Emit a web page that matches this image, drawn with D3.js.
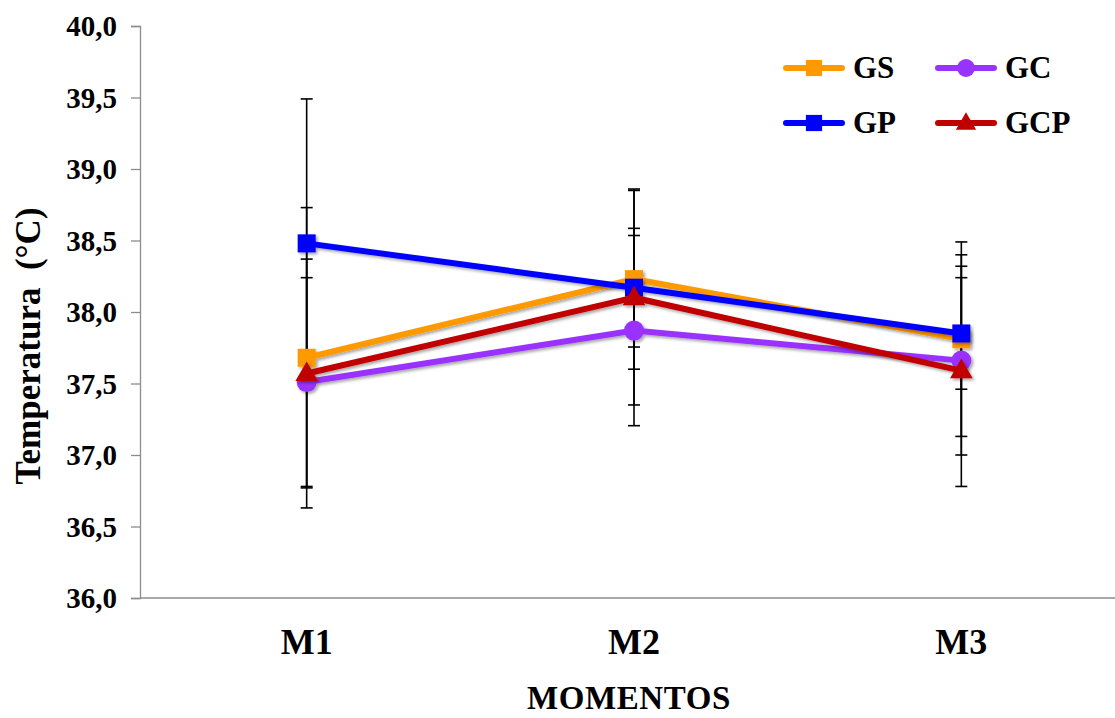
<!DOCTYPE html>
<html>
<head>
<meta charset="utf-8">
<script src="https://cdn.jsdelivr.net/npm/d3@7"></script>
<style>
  body { margin: 0; background: #fff; }
  svg { display: block; font-family: "Liberation Serif", "Times New Roman", serif; font-weight: bold; }
</style>
</head>
<body>
<svg id="chart" width="1115" height="718"></svg>
<script>
const width = 1115;
const height = 718;

// data
const momentos = ["M1", "M2", "M3"];
const yTicks = [36, 36.5, 37, 37.5, 38, 38.5, 39, 39.5, 40];
const grupos = ["GS", "GP", "GC", "GCP"];
const colores = ["#FF9900", "#0000FF", "#9933FF", "#C00000"];
const simbolos = ["square", "square", "circle", "triangle"];
const mediaGS = [37.68, 38.23, 37.81];
const mediaGP = [38.48, 38.17, 37.85];
const mediaGC = [37.51, 37.87, 37.66];
const mediaGCP = [37.57, 38.10, 37.59];
const dpGS = [1.05, 0.63, 0.68];
const dpGP = [1.01, 0.415, 0.39];
const dpGC = [0.73, 0.665, 0.66];
const dpGCP = [0.80, 0.75, 0.81];

const medias = [mediaGS, mediaGP, mediaGC, mediaGCP];
const dps = [dpGS, dpGP, dpGC, dpGCP];

const series = grupos.map((g, i) => ({
  name: g,
  color: colores[i],
  symbol: simbolos[i],
  values: momentos.map((m, j) => ({ m: m, v: medias[i][j], sd: dps[i][j] }))
}));

const svg = d3.select("#chart");

const defs = svg.append("defs");
const f = defs.append("filter").attr("id", "sombra")
  .attr("x", "-50%").attr("y", "-50%").attr("width", "200%").attr("height", "200%");
f.append("feDropShadow").attr("dx", 2).attr("dy", 2).attr("stdDeviation", 1.8)
  .attr("flood-color", "#000").attr("flood-opacity", 0.35);

const x = d3.scalePoint().domain(momentos).range([143, 1125]).padding(0.5);
const y = d3.scaleLinear().domain([36, 40]).range([598, 26]);

const fmt = d => d3.format(".1f")(d).replace(".", ",");

// y axis
const yAxis = svg.append("g")
  .attr("transform", "translate(140,0)")
  .call(d3.axisLeft(y).tickValues(yTicks).tickFormat(fmt).tickSize(9).tickPadding(14));
yAxis.select(".domain").attr("stroke", "#8c8c8c").attr("stroke-width", 1.3);
yAxis.selectAll(".tick line").attr("stroke", "#8c8c8c").attr("stroke-width", 1.3);
yAxis.selectAll(".tick text")
  .attr("font-size", 29).attr("font-family", "Liberation Serif").attr("font-weight", "bold")
  .attr("fill", "#000").attr("dy", "0.34em");

// x axis line
svg.append("line")
  .attr("x1", 140).attr("x2", width).attr("y1", y(36)).attr("y2", y(36))
  .attr("stroke", "#8c8c8c").attr("stroke-width", 1.3);

svg.append("g").selectAll("text")
  .data(momentos)
  .join("text")
  .attr("x", d => x(d))
  .attr("y", 654)
  .attr("text-anchor", "middle")
  .attr("font-size", 36)
  .text(d => d);

svg.append("text")
  .attr("x", 629).attr("y", 709)
  .attr("text-anchor", "middle")
  .attr("font-size", 33)
  .attr("letter-spacing", 0.6)
  .text("MOMENTOS");

svg.append("text")
  .attr("transform", "translate(40,346) rotate(-90)")
  .attr("text-anchor", "middle")
  .attr("font-size", 35)
  .attr("xml:space", "preserve")
  .style("white-space", "pre")
  .text("Temperatura  (°C)");

// error bars
const eb = svg.append("g").attr("stroke", "#000").attr("stroke-width", 1.6);
series.forEach(s => {
  s.values.forEach(d => {
    const cx = x(d.m);
    eb.append("line").attr("x1", cx).attr("x2", cx).attr("y1", y(d.v - d.sd)).attr("y2", y(d.v + d.sd));
    [d.v - d.sd, d.v + d.sd].forEach(e => {
      eb.append("line").attr("x1", cx - 6).attr("x2", cx + 6).attr("y1", y(e)).attr("y2", y(e));
    });
  });
});

const line = d3.line().x(d => x(d.m)).y(d => y(d.v));

function marker(g, type, color, cx, cy, k) {
  k = k || 1;
  if (type === "square") {
    g.append("rect").attr("x", cx - 9 * k).attr("y", cy - 9 * k)
      .attr("width", 18 * k).attr("height", 18 * k).attr("fill", color);
  } else if (type === "circle") {
    g.append("circle").attr("cx", cx).attr("cy", cy).attr("r", 10 * k).attr("fill", color);
  } else {
    g.append("path")
      .attr("d", d3.symbol().type(d3.symbolTriangle).size(220 * k * k)())
      .attr("transform", `translate(${cx},${cy + 1})`)
      .attr("fill", color);
  }
}

series.forEach(s => {
  const g = svg.append("g").attr("filter", "url(#sombra)");
  g.append("path")
    .datum(s.values)
    .attr("d", line)
    .attr("fill", "none")
    .attr("stroke", s.color)
    .attr("stroke-width", 6);
  s.values.forEach(d => marker(g, s.symbol, s.color, x(d.m), y(d.v)));
});

// legend
const legPos = [
  { x: 786, y: 68 },   // GS
  { x: 786, y: 123 },  // GP
  { x: 938, y: 68 },   // GC
  { x: 938, y: 123 }   // GCP
];
series.forEach((s, i) => {
  const p = legPos[i];
  const g = svg.append("g");
  g.append("line")
    .attr("x1", p.x).attr("x2", p.x + 56).attr("y1", p.y).attr("y2", p.y)
    .attr("stroke", s.color).attr("stroke-width", 6).attr("stroke-linecap", "round");
  marker(g, s.symbol, s.color, p.x + 28, p.y, 0.9);
  g.append("text")
    .attr("x", p.x + 67).attr("y", p.y + 10)
    .attr("font-size", 31)
    .text(s.name);
});
</script>
</body>
</html>
